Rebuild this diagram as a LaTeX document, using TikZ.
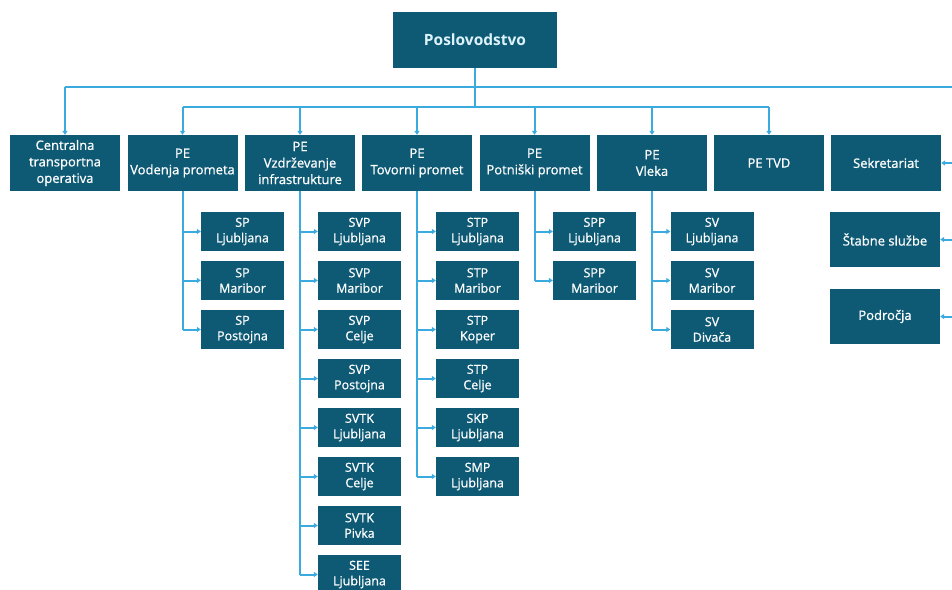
\documentclass[tikz,border=0pt]{standalone}
\usepackage{fontspec}
\setmainfont{Open Sans}
\newfontfamily\boxfont{Open Sans}[FakeBold=0.8]
\usetikzlibrary{arrows.meta}
\definecolor{boxc}{HTML}{0E5A75}
\definecolor{linec}{HTML}{3AAADF}
\definecolor{toptext}{HTML}{DDF3FB}
\begin{document}
\begin{tikzpicture}[x=1pt,y=-1pt,
 box/.style={fill=boxc, text=white, inner sep=0pt, align=center, minimum width=110pt, minimum height=56pt, font=\boxfont\fontsize{13}{16.5}\selectfont},
 sub/.style={box, minimum width=83pt, minimum height=39pt, font=\boxfont\fontsize{12.5}{15.5}\selectfont},
 conn/.style={draw=linec, line width=2pt},
 arr/.style={conn, -{Triangle[length=4pt,width=5pt]}}]
\useasboundingbox (0,0) rectangle (952,589);
\clip (0,0) rectangle (952,589);

% top
\node[box, minimum width=164pt, minimum height=56pt, font=\bfseries\fontsize{15.5}{18}\selectfont, text=toptext] (top) at (475,40) {Poslovodstvo};

% row 1
\node[box] (cto) at (65,163) {Centralna\\transportna\\operativa};
\node[box] (pe1) at (182.5,163) {PE\\Vodenja prometa};
\node[box] (pe2) at (300,163) {PE\\Vzdrževanje\\infrastrukture};
\node[box] (pe3) at (417,163) {PE\\Tovorni promet};
\node[box] (pe4) at (534.5,163) {PE\\Potniški promet};
\node[box] (pe5) at (652,163) {PE\\Vleka};
\node[box] (tvd) at (769,163) {PE TVD};
\node[box] (sek) at (886,163) {Sekretariat};
\node[box, minimum height=55pt] (stab) at (885,239.5) {Štabne službe};
\node[box, minimum height=55pt] (podr) at (885,316.5) {Področja};

% sub boxes
\node[sub] (sp1) at (242.5,231.5) {SP\\Ljubljana};
\node[sub] (sp2) at (242.5,280.5) {SP\\Maribor};
\node[sub] (sp3) at (242.5,329.5) {SP\\Postojna};

\node[sub] (svp1) at (359.5,231.5) {SVP\\Ljubljana};
\node[sub] (svp2) at (359.5,280.5) {SVP\\Maribor};
\node[sub] (svp3) at (359.5,329.5) {SVP\\Celje};
\node[sub] (svp4) at (359.5,378.5) {SVP\\Postojna};
\node[sub] (svp5) at (359.5,427.5) {SVTK\\Ljubljana};
\node[sub] (svp6) at (359.5,476.5) {SVTK\\Celje};
\node[sub] (svp7) at (359.5,525.5) {SVTK\\Pivka};
\node[sub] (svp8) at (359.5,574.5) {SEE\\Ljubljana};

\node[sub] (stp1) at (477.5,231.5) {STP\\Ljubljana};
\node[sub] (stp2) at (477.5,280.5) {STP\\Maribor};
\node[sub] (stp3) at (477.5,329.5) {STP\\Koper};
\node[sub] (stp4) at (477.5,378.5) {STP\\Celje};
\node[sub] (stp5) at (477.5,427.5) {SKP\\Ljubljana};
\node[sub] (stp6) at (477.5,476.5) {SMP\\Ljubljana};

\node[sub] (spp1) at (594.5,231.5) {SPP\\Ljubljana};
\node[sub] (spp2) at (594.5,280.5) {SPP\\Maribor};

\node[sub] (sv1) at (712,231.5) {SV\\Ljubljana};
\node[sub] (sv2) at (712,280.5) {SV\\Maribor};
\node[sub] (sv3) at (712,329.5) {SV\\Divača};

% junction coordinates
\coordinate (j1) at (475,87);
\coordinate (j2) at (475,107);
\coordinate (rE) at (952,87);
\coordinate (r1) at (952,163);
\coordinate (r2) at (952,239.5);
\coordinate (r3) at (952,316.5);

% top connectors
\draw[conn] (top.south) -- (j2);
\draw[conn] (cto.north |- j1) -- (rE);
\draw[arr] (cto.north |- j1) -- (cto.north);
\draw[conn] (pe1.north |- j2) -- (tvd.north |- j2);
\foreach \n in {pe1,pe2,pe3,pe4,pe5,tvd}{
  \draw[arr] (\n.north |- j2) -- (\n.north);
}
\draw[arr] (r1) -- (sek.east);
\draw[arr] (r2) -- (stab.east);
\draw[arr] (r3) -- (podr.east);

% sub trees
\draw[conn] (pe1.south) -- (pe1.south |- sp3.west);
\foreach \c in {sp1,sp2,sp3}{ \draw[arr] (pe1.south |- \c.west) -- (\c.west); }
\draw[conn] (pe2.south) -- (pe2.south |- svp8.west);
\foreach \c in {svp1,svp2,svp3,svp4,svp5,svp6,svp7,svp8}{ \draw[arr] (pe2.south |- \c.west) -- (\c.west); }
\draw[conn] (pe3.south) -- (pe3.south |- stp6.west);
\foreach \c in {stp1,stp2,stp3,stp4,stp5,stp6}{ \draw[arr] (pe3.south |- \c.west) -- (\c.west); }
\draw[conn] (pe4.south) -- (pe4.south |- spp2.west);
\foreach \c in {spp1,spp2}{ \draw[arr] (pe4.south |- \c.west) -- (\c.west); }
\draw[conn] (pe5.south) -- (pe5.south |- sv3.west);
\foreach \c in {sv1,sv2,sv3}{ \draw[arr] (pe5.south |- \c.west) -- (\c.west); }
\end{tikzpicture}
\end{document}
